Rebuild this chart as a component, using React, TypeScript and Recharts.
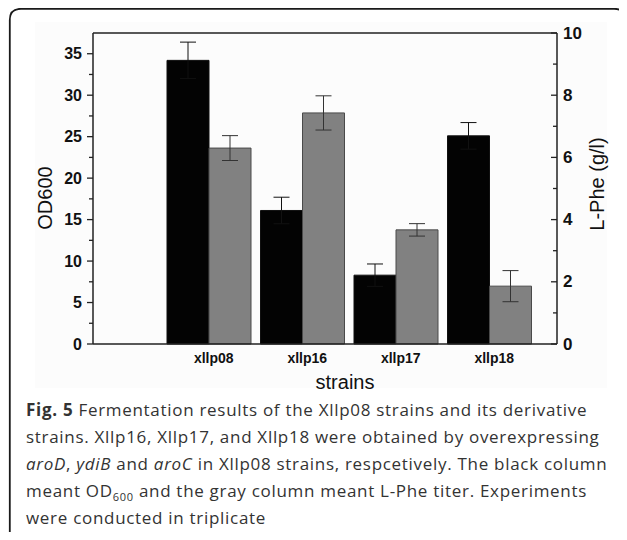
import React from 'react';
import { BarChart, Bar, XAxis, YAxis, ErrorBar, ReferenceLine } from 'recharts';

const strains = ['xllp08', 'xllp16', 'xllp17', 'xllp18'];
const od600 = [34.2, 16.1, 8.3, 25.1];
const od600Err = [2.2, 1.6, 1.35, 1.6];
const phe = [6.3, 7.43, 3.67, 1.86];
const pheErr = [0.4, 0.55, 0.2, 0.5];
const leftTicks = [0, 2.5, 5, 7.5, 10, 12.5, 15, 17.5, 20, 22.5, 25, 27.5, 30, 32.5, 35];
const rightTicks = [0, 1, 2, 3, 4, 5, 6, 7, 8, 9, 10];

const data = strains.map((s, i) => ({
  strain: s,
  od: od600[i],
  odErr: od600Err[i],
  phe: phe[i],
  pheErr: pheErr[i],
}));

const AXIS = '#222';

const LeftTick = (props: any) => {
  const { x, y, payload } = props;
  const major = payload.value % 5 === 0;
  return (
    <g>
      <line x1={x - (major ? 6 : 4)} x2={x} y1={y} y2={y} stroke={AXIS} strokeWidth={1.3} />
      {major && (
        <text x={x - 11} y={y} textAnchor="end" dominantBaseline="central" fontSize={16} fontWeight="bold" fill="#111">
          {payload.value}
        </text>
      )}
    </g>
  );
};

const RightTick = (props: any) => {
  const { x, y, payload } = props;
  const major = payload.value % 2 === 0;
  return (
    <g>
      <line x1={x - (major ? 6 : 4)} x2={x} y1={y} y2={y} stroke={AXIS} strokeWidth={1.3} />
      {major && (
        <text x={x + 6} y={y} textAnchor="start" dominantBaseline="central" fontSize={17} fontWeight="bold" fill="#111">
          {payload.value}
        </text>
      )}
    </g>
  );
};

const StrainTick = (props: any) => {
  const { x, y, payload } = props;
  return (
    <text x={x + 5} y={y + 19} textAnchor="middle" fontSize={14} fontWeight="bold" fill="#111">
      {payload.value}
    </text>
  );
};

const AxisTitle = ({ cx, cy, angle, text }: { cx: number; cy: number; angle: number; text: string }) => (
  <text
    x={cx}
    y={cy}
    textAnchor="middle"
    dominantBaseline="central"
    fontSize={20}
    fill="#111"
    transform={`rotate(${angle}, ${cx}, ${cy})`}
  >
    {text}
  </text>
);

export default function App() {
  return (
    <div
      style={{
        position: 'relative',
        width: 619,
        height: 532,
        marginBottom: -8,
        fontFamily: 'Arial, "Liberation Sans", sans-serif',
      }}
    >
      <div style={{ position: 'absolute', left: 27, top: 14, width: 572, height: 366, background: '#fcfcfc' }} />
      <div style={{ position: 'absolute', left: 2, top: 2 }}>
        <BarChart
          width={600}
          height={390}
          data={data}
          margin={{ top: 23, right: 0, bottom: 0, left: 0 }}
          barGap={0}
          barSize={42}
        >
          <XAxis
            dataKey="strain"
            height={56}
            padding={{ left: 69, right: 21 }}
            stroke={AXIS}
            strokeWidth={1.5}
            tickLine={false}
            tickSize={0}
            tickMargin={0}
            tick={<StrainTick />}
            label={{ content: () => <AxisTitle cx={335} cy={372} angle={0} text="strains" /> }}
          />
          <YAxis
            yAxisId="od"
            width={83}
            domain={[0, 37.5]}
            ticks={leftTicks}
            interval={0}
            stroke={AXIS}
            strokeWidth={1.5}
            tickLine={false}
            tickSize={0}
            tickMargin={0}
            tick={<LeftTick />}
            label={{ content: () => <AxisTitle cx={34.5} cy={188} angle={-90} text="OD600" /> }}
          />
          <YAxis
            yAxisId="phe"
            orientation="right"
            width={53}
            domain={[0, 10]}
            ticks={rightTicks}
            interval={0}
            stroke={AXIS}
            strokeWidth={1.5}
            tickLine={false}
            tickSize={0}
            tickMargin={0}
            tick={<RightTick />}
            label={{ content: () => <AxisTitle cx={586.5} cy={174} angle={-90} text="L-Phe (g/l)" /> }}
          />
          <ReferenceLine yAxisId="od" y={37.5} stroke={AXIS} strokeWidth={1.5} />
          <Bar yAxisId="od" dataKey="od" fill="#030303" stroke="#111" strokeWidth={1} isAnimationActive={false}>
            <ErrorBar dataKey="odErr" width={8} stroke="#111" strokeWidth={1} />
          </Bar>
          <Bar yAxisId="phe" dataKey="phe" fill="#818181" stroke="#4a4a4a" strokeWidth={1} isAnimationActive={false}>
            <ErrorBar dataKey="pheErr" width={8} stroke="#333" strokeWidth={1} />
          </Bar>
        </BarChart>
      </div>
      <div
        style={{
          position: 'absolute',
          left: 18,
          top: 388,
          fontFamily: '"Open Sans", sans-serif',
          fontSize: 17,
          letterSpacing: 0.7,
          lineHeight: '27px',
          color: '#333',
          whiteSpace: 'nowrap',
        }}
      >
        <b>Fig. 5</b> Fermentation results of the Xllp08 strains and its derivative
        <br />
        strains. Xllp16, Xllp17, and Xllp18 were obtained by overexpressing
        <br />
        <i>aroD</i>, <i>ydiB</i> and <i>aroC</i> in Xllp08 strains, respcetively. The black column
        <br />
        meant OD<sub style={{ fontSize: 11, lineHeight: 0 }}>600</sub> and the gray column meant L-Phe titer. Experiments
        <br />
        were conducted in triplicate
      </div>
      {/* figure frame, drawn last so nothing covers it */}
      <svg
        width={619}
        height={532}
        style={{ position: 'absolute', left: 0, top: 0, pointerEvents: 'none' }}
      >
        <path
          d="M 1.8 540 L 1.8 12 Q 1.8 0.8 13 0.8 L 606 0.8 Q 617.5 0.8 617.5 12 L 617.5 540"
          fill="none"
          stroke="#1a1a1a"
          strokeWidth={1.8}
        />
      </svg>
    </div>
  );
}
